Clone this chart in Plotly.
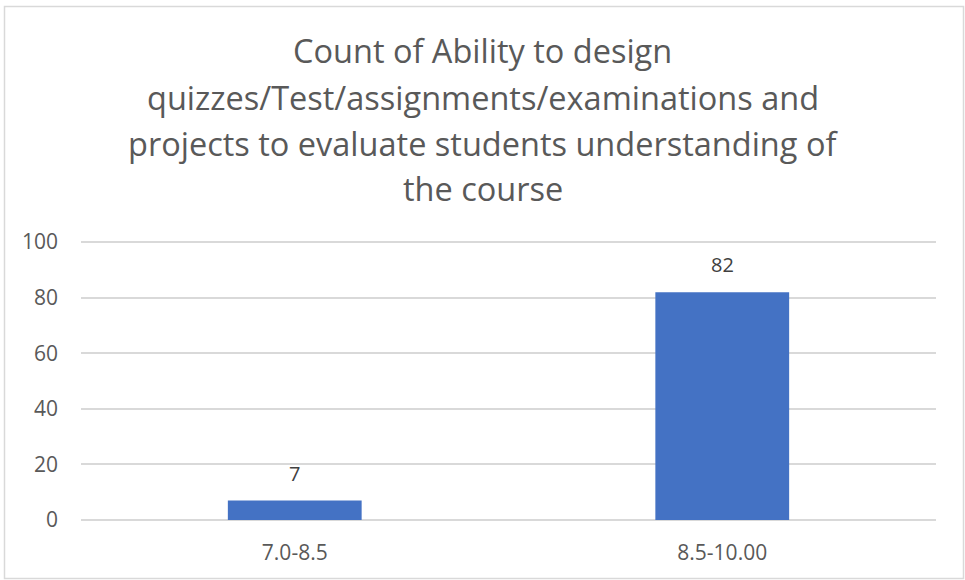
import plotly.graph_objects as go

categories = ["7.0-8.5", "8.5-10.00"]
counts = [7, 82]
title_lines = [
    "Count of Ability to design",
    "quizzes/Test/assignments/examinations and",
    "projects to evaluate students understanding of",
    "the course",
]
y_ticks = [0, 20, 40, 60, 80, 100]

W, H = 965, 580
L, R, T, B = 81, 29, 241, 60
plot_h = H - T - B
plot_w = W - L - R


def px_x(x):
    return (x - L) / plot_w


def px_y(y):
    return (H - B - y) / plot_h


text_color = "#595959"
grid_color = "#D9D9D9"
font_name = "Open Sans"

fig = go.Figure()

fig.add_trace(go.Bar(
    x=categories,
    y=counts,
    marker_color="#4472C4",
    marker_line_width=0,
    showlegend=False,
))

# data labels
for cat, val in zip(categories, counts):
    fig.add_annotation(
        x=cat, y=val, text=str(val), showarrow=False,
        yanchor="bottom", yshift=12,
        font=dict(family=font_name, size=20, color="#404040"),
    )

# title, one annotation per line so the spacing matches
title_centers = [50, 97, 143, 188]
for line, yc in zip(title_lines, title_centers):
    fig.add_annotation(
        x=px_x(W / 2), y=px_y(yc), xref="paper", yref="paper",
        text=line, showarrow=False, xanchor="center", yanchor="middle",
        font=dict(family=font_name, size=32.5, color=text_color),
    )

# chart border
fig.add_shape(
    type="rect", xref="paper", yref="paper",
    x0=px_x(4.5), x1=px_x(963.5), y0=px_y(578.5), y1=px_y(6.5),
    line=dict(color=grid_color, width=1.5),
)

fig.update_layout(
    width=W, height=H,
    margin=dict(l=L, r=R, t=T, b=B),
    plot_bgcolor="white",
    paper_bgcolor="white",
    bargap=0.687,
    font=dict(family=font_name, size=21, color=text_color),
)
fig.update_xaxes(
    showgrid=False, showline=False, zeroline=False,
    ticks="", ticklabelstandoff=18,
    tickfont=dict(family=font_name, size=21, color=text_color),
)
fig.update_yaxes(
    range=[0, 100.4], tickvals=y_ticks,
    showgrid=True, gridcolor=grid_color, gridwidth=1.5,
    zeroline=True, zerolinecolor=grid_color, zerolinewidth=1.5,
    showline=False, ticks="", ticklabelstandoff=22,
    tickfont=dict(family=font_name, size=21, color=text_color),
)

# drop the default page margin so the figure sits at the window's corner
fig.write_html(
    "out.html",
    config={"displayModeBar": False},
    post_script="document.body.style.margin='0';",
)
